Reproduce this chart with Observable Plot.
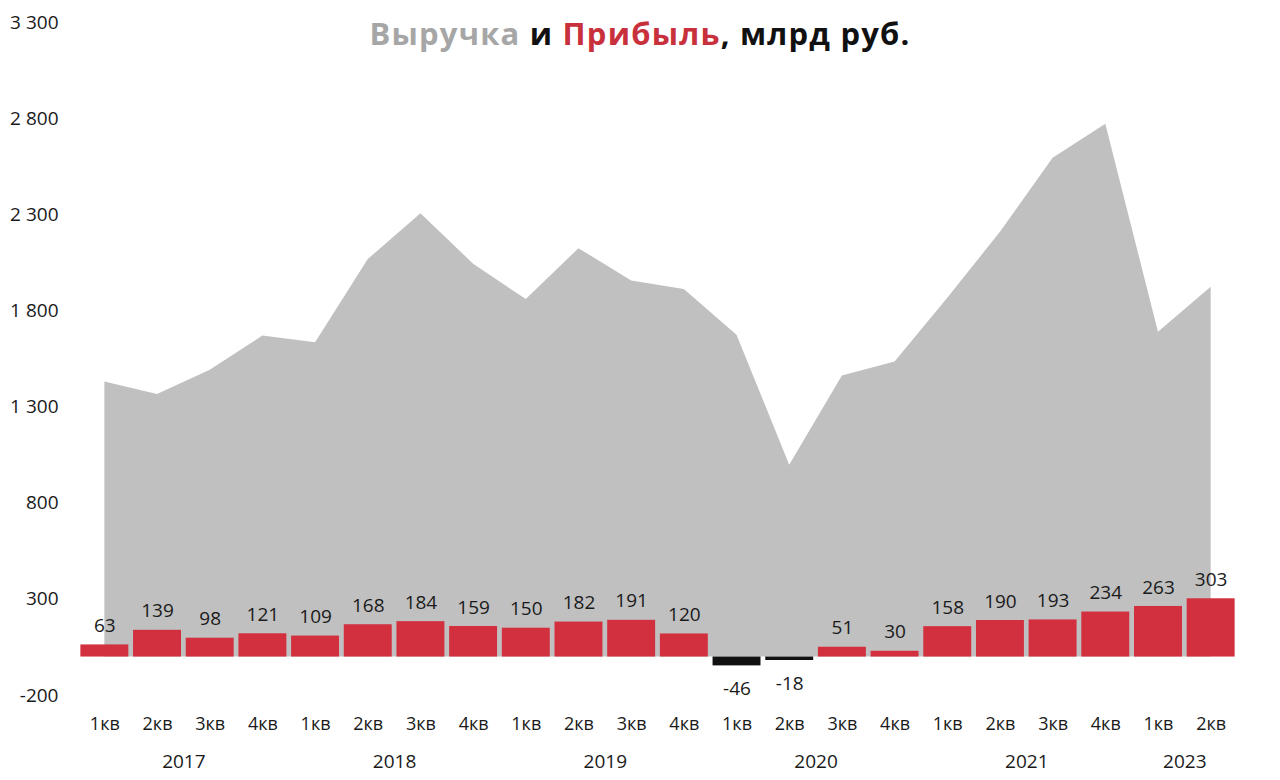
<!DOCTYPE html>
<html>
<head>
<meta charset="utf-8">
<script src="https://cdn.jsdelivr.net/npm/d3@7"></script>
<script src="https://cdn.jsdelivr.net/npm/@observablehq/plot@0.6"></script>
<style>
  html, body { margin: 0; padding: 0; background: #fff; }
  #wrap { position: relative; width: 1280px; height: 780px; font-family: "Open Sans", sans-serif; }
  #title { position: absolute; left: 0; width: 1280px; top: 12px; text-align: center;
           font-family: "Open Sans", sans-serif; font-weight: 700; font-size: 31px; color: #111; letter-spacing: 1.2px; }
  #title .rev { color: #a6a6a6; }
  #title .prof { color: #c8303c; }
  #chart { position: absolute; left: 0; top: 0; }
</style>
</head>
<body>
<div id="wrap">
  <div id="chart"></div>
  <div id="title"><span class="rev">Выручка</span> и <span class="prof">Прибыль</span>, млрд руб.</div>
</div>
<script>
const quarters = ["1кв","2кв","3кв","4кв","1кв","2кв","3кв","4кв","1кв","2кв","3кв","4кв","1кв","2кв","3кв","4кв","1кв","2кв","3кв","4кв","1кв","2кв"];
const years    = ["2017","2017","2017","2017","2018","2018","2018","2018","2019","2019","2019","2019","2020","2020","2020","2020","2021","2021","2021","2021","2023","2023"];
const revenue  = [1431,1366,1492,1669,1634,2067,2306,2043,1859,2124,1956,1911,1674,998,1462,1535,1866,2209,2594,2771,1689,1923];
const profit   = [63,139,98,121,109,168,184,159,150,182,191,120,-46,-18,51,30,158,190,193,234,263,303];
const yTicks   = [-200,300,800,1300,1800,2300,2800,3300];

const rows = quarters.map((q, i) => ({i, q, year: years[i], revenue: revenue[i], profit: profit[i]}));

// one label per year, centred under its quarters
const yearGroups = d3.groups(rows, d => d.year).map(([year, rs]) => ({year, i: d3.mean(rs, r => r.i)}));

const fmt = d => d3.format(",")(d).replace(",", " ").replace("\u2212", "-");
const halfBar = 0.455;

const chart = Plot.plot({
  width: 1280,
  height: 780,
  marginLeft: 78,
  marginRight: 43,
  marginTop: 22,
  marginBottom: 85,
  style: {fontFamily: "Open Sans, sans-serif", fontSize: "19px", color: "#1a1a1a", background: "transparent"},
  x: {type: "linear", domain: [-0.5, 21.5], axis: null},
  y: {domain: [-200, 3300], axis: null},
  marks: [
    Plot.areaY(rows, {x: "i", y: "revenue", fill: "#c0c0c0"}),
    Plot.rectY(rows, {
      x1: d => d.i - halfBar, x2: d => d.i + halfBar, y: "profit",
      fill: d => d.profit < 0 ? "#111111" : "#d22f3f"
    }),
    Plot.text(rows.filter(d => d.profit >= 0), {x: "i", y: "profit", text: d => String(d.profit), dy: -19, fill: "#1a1a1a", fontSize: 19}),
    Plot.text(rows.filter(d => d.profit < 0), {x: "i", y: "profit", text: d => String(d.profit), dy: 23, fill: "#1a1a1a", fontSize: 19}),
    Plot.text(rows, {x: "i", frameAnchor: "bottom", text: "q", dy: 34, fill: "#1a1a1a", fontSize: 18}),
    Plot.text(yearGroups, {x: "i", frameAnchor: "bottom", text: "year", dy: 72, fill: "#1a1a1a", fontSize: 19}),
    Plot.axisY({ticks: yTicks, tickFormat: fmt, tickSize: 0, tickPadding: 20, fontSize: 19, fill: "#1a1a1a"})
  ]
});
document.getElementById("chart").appendChild(chart);
</script>
</body>
</html>
